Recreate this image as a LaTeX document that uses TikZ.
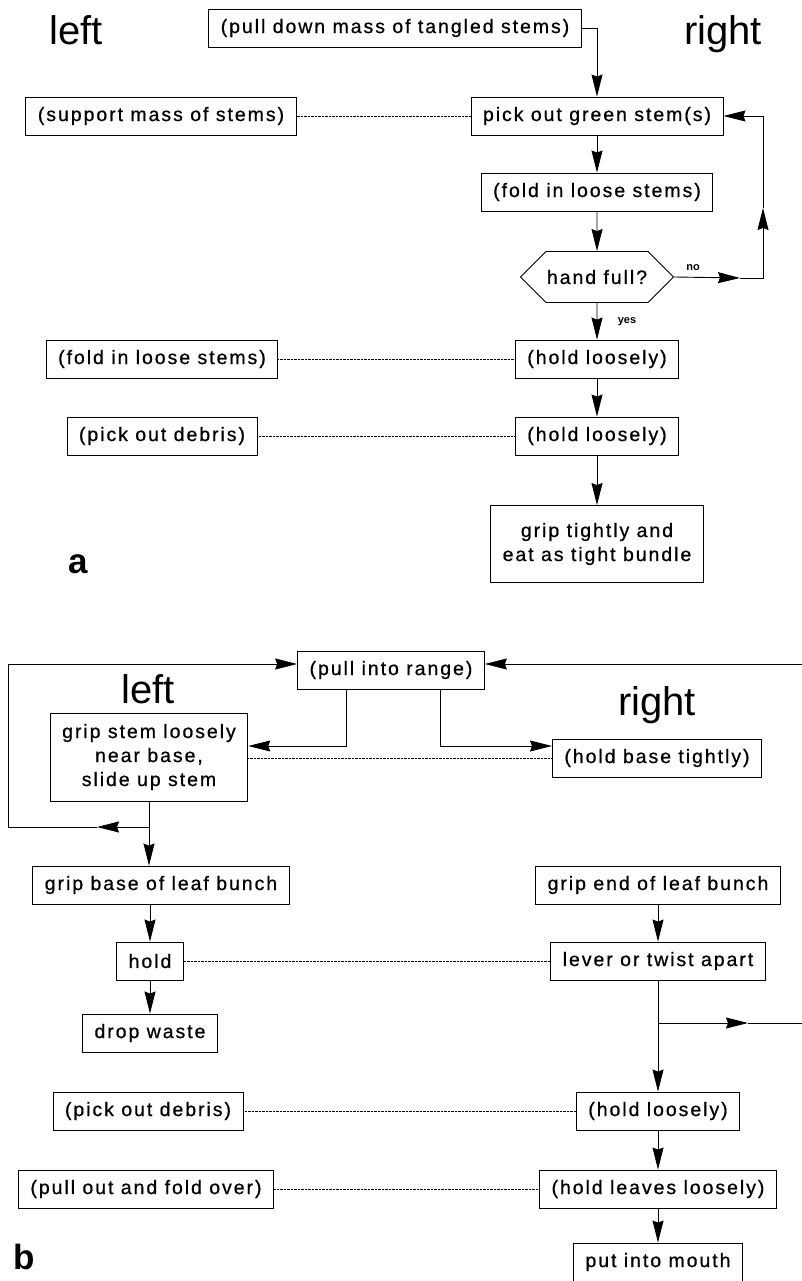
\documentclass[tikz,border=0pt]{standalone}
\usepackage{fontspec}
\setmainfont{Liberation Sans}
\newfontfamily\boxfont{Liberation Sans}[LetterSpace=10,FakeBold=0.7]
\usetikzlibrary{arrows.meta,shapes.symbols,calc}

\tikzset{
  stepbox/.style={draw, rectangle, font=\boxfont\fontsize{19.5}{24}\selectfont,
    minimum height=38pt, inner xsep=12pt, align=center},
  askbox/.style={draw, signal, signal to=east and west, signal pointer angle=90,
    font=\boxfont\fontsize{19.5}{24}\selectfont, minimum height=51pt, inner xsep=1pt},
  side/.style={font=\fontsize{40}{42}\selectfont, anchor=base},
  panel/.style={font=\bfseries\fontsize{35}{36}\selectfont},
  answer/.style={font=\bfseries\fontsize{11}{12}\selectfont},
  arr/.style={-{Stealth[length=22pt,width=11pt,inset=2pt]}},
  link/.style={densely dotted, thin}
}

\begin{document}
\begin{tikzpicture}[x=1pt, y=-1pt, line width=0.9pt]
\useasboundingbox (0,0) rectangle (802,1281);

% ---- a ----
\node[side] (leftA) at (76,45) {left};
\node[side] (rightA) at (723,45) {right};
\node[panel] (a) at (78,564) {a};

\node[stepbox] (pull) at (395,28) {(pull down mass of tangled stems)};
\node[stepbox] (support) at (161,116) {(support mass of stems)};
\node[stepbox] (pick) at (597,116) {pick out green stem(s)};
\node[stepbox] (fold) at (597,192) {(fold in loose stems)};
\node[askbox] (full) at (597,277) {hand full?};
\node[stepbox] (holdA) at (597,359) {(hold loosely)};
\node[stepbox] (foldL) at (162,359) {(fold in loose stems)};
\node[stepbox] (holdB) at (597,436) {(hold loosely)};
\node[stepbox] (debrisA) at (162,436) {(pick out debris)};
\node[stepbox, minimum height=77pt] (grip) at (597,544) {grip tightly and\\eat as tight bundle};
\node[answer] (no) at (693,268) {no};
\node[answer] (yes) at (627,322) {yes};

\coordinate (noA) at (740,278);
\coordinate (noC) at (763,278);
\coordinate (noU) at (763,208);
\coordinate (noT) at (763,116);

\draw[arr] (pull.east) -| (pick.north);
\draw[link] (support) -- (pick);
\path[arr]
(pick) edge (fold)
(fold) edge (full)
(full) edge (holdA)
(holdA) edge (holdB)
(holdB) edge (grip);
\draw[arr] (full.east) -- (noA);
\draw[arr] (noA) -- (noC) -- (noU);
\draw[arr] (noU) -- (noT) -- (pick.east);
\draw[link] (foldL) -- (holdA);
\draw[link] (debrisA) -- (holdB);

% ---- b ----
\node[side] (leftB) at (148,703) {left};
\node[side] (rightB) at (657,715) {right};
\node[panel] (b) at (24,1257) {b};

\node[stepbox] (range) at (391,670) {(pull into range)};
\node[stepbox, minimum height=88pt] (stem) at (149,757) {grip stem loosely\\near base,\\slide up stem};
\node[stepbox] (base) at (657,758) {(hold base tightly)};
\node[stepbox] (baseL) at (161,885) {grip base of leaf bunch};
\node[stepbox] (endR) at (658,885) {grip end of leaf bunch};
\node[stepbox] (hold) at (150,961) {hold};
\node[stepbox] (lever) at (658,961) {lever or twist apart};
\node[stepbox] (waste) at (150,1033) {drop waste};
\node[stepbox] (holdC) at (658,1111) {(hold loosely)};
\node[stepbox] (debrisB) at (148,1111) {(pick out debris)};
\node[stepbox] (leaves) at (658,1189) {(hold leaves loosely)};
\node[stepbox] (over) at (146,1189) {(pull out and fold over)};
\node[stepbox] (mouth) at (658,1262) {put into mouth};

\coordinate (topL) at (8,664);
\coordinate (topR) at (802,664);
\coordinate (rg) at (346,746);
\coordinate (rh) at (440,746);
\coordinate (jL) at (150,827);
\coordinate (jLa) at (97,827);
\coordinate (cL) at (8,827);
\coordinate (jR) at (658,1023);
\coordinate (jRa) at (748,1023);
\coordinate (outR) at (802,1023);

\draw[arr] (topR) -- (range.east |- topR);
\draw[arr] (range.south -| rg) |- (stem.east |- rg);
\draw[arr] (range.south -| rh) |- (base.west |- rh);
\draw[link] (stem.east |- base) -- (base.west);
\draw[arr] (stem.south) -- (stem.south |- baseL.north);
\draw[arr] (jL) -- (jLa);
\draw[arr] (jLa) -- (cL) |- (range.west |- topL);
\draw[arr] (baseL.south -| hold) -- (hold);
\draw[arr] (hold) -- (waste);
\draw[link] (hold) -- (lever);
\path[arr]
(endR) edge (lever)
(lever) edge (holdC)
(holdC) edge (leaves)
(leaves) edge (mouth);
\draw[arr] (jR) -- (jRa);
\draw (jRa) -- (outR);
\draw[link] (debrisB) -- (holdC);
\draw[link] (over) -- (leaves);
\end{tikzpicture}
\end{document}
